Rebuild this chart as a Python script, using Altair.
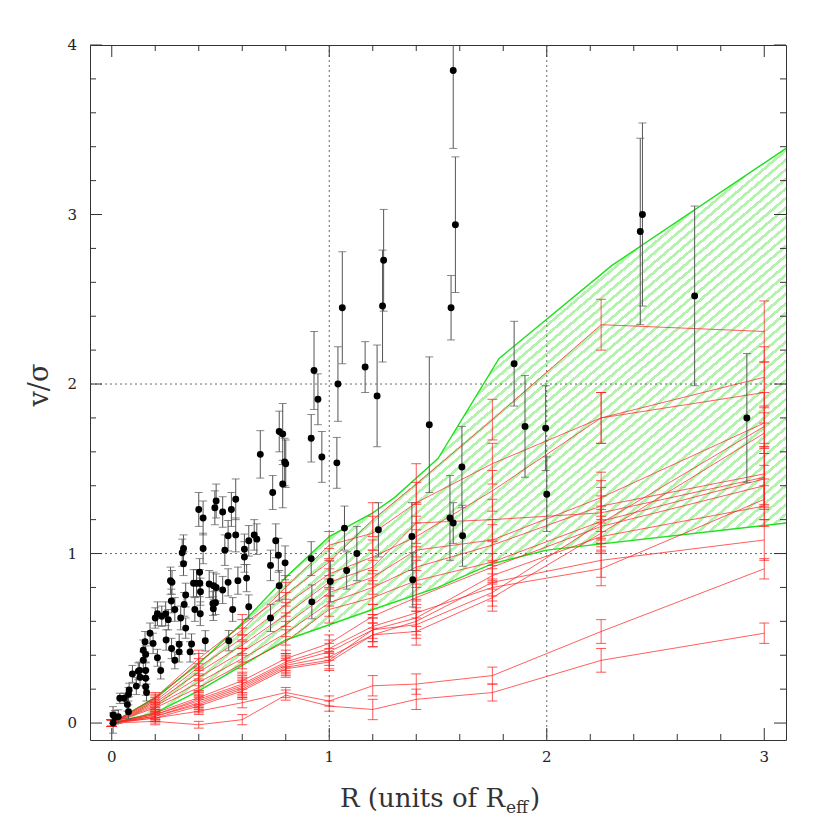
import altair as alt
import pandas as pd

# ---------------- data ----------------
RX = [0, 0.2, 0.4, 0.6, 0.8, 1.0, 1.2, 1.4, 1.75, 2.25, 3.0]

R01 = [0, 0.15, 0.38, 0.58, 0.76, 0.95, 1.20, 1.41, 1.79, 2.35, 2.31]
R02 = [0, 0.14, 0.36, 0.55, 0.80, 1.05, 1.12, 1.30, 1.53, 1.80, 2.04]
R03 = [0, 0.13, 0.33, 0.50, 0.70, 0.88, 0.98, 1.10, 1.37, 1.80, 1.95]
R04 = [0, 0.12, 0.30, 0.46, 0.64, 0.83, 0.92, 1.18, 1.20, 1.24, 1.45]
R05 = [0, 0.11, 0.27, 0.42, 0.58, 0.77, 0.86, 1.02, 1.08, 1.33, 1.77]
R06 = [0, 0.10, 0.24, 0.38, 0.53, 0.71, 0.80, 0.92, 1.05, 1.28, 1.47]
R07 = [0, 0.09, 0.21, 0.35, 0.48, 0.67, 0.74, 0.84, 0.95, 1.19, 1.44]
R08 = [0, 0.06, 0.15, 0.25, 0.38, 0.47, 0.63, 0.74, 0.92, 1.16, 1.40]
R09 = [0, 0.05, 0.14, 0.23, 0.36, 0.44, 0.57, 0.65, 0.80, 0.91, 1.32]
R10 = [0, 0.05, 0.13, 0.22, 0.35, 0.42, 0.55, 0.62, 0.87, 1.10, 1.28]
R11 = [0, 0.04, 0.12, 0.21, 0.34, 0.39, 0.52, 0.60, 0.83, 0.96, 1.08]
R12 = [0, 0.04, 0.11, 0.20, 0.33, 0.37, 0.55, 0.58, 0.77, 1.18, 1.75]
R13 = [0, 0.03, 0.10, 0.19, 0.32, 0.36, 0.52, 0.54, 0.74, 1.12, 1.71]
R14 = [0, 0.03, 0.07, 0.12, 0.18, 0.13, 0.22, 0.23, 0.28, 0.54, 0.91]
R15 = [0, 0.01, -0.01, 0.02, 0.165, 0.10, 0.08, 0.14, 0.18, 0.37, 0.53]
RED_LINES = [R01, R02, R03, R04, R05, R06, R07, R08, R09, R10, R11, R12, R13, R14, R15]

ERR_UPPER = [0.02, 0.03, 0.05, 0.06, 0.07, 0.08, 0.10, 0.12, 0.12, 0.15, 0.18]
ERR_MID = [0.02, 0.03, 0.04, 0.05, 0.05, 0.05, 0.07, 0.08, 0.08, 0.10, 0.12]
ERR_LOW = [0.02, 0.02, 0.02, 0.03, 0.03, 0.03, 0.06, 0.06, 0.05, 0.07, 0.06]
RED_ERR = [ERR_UPPER] * 7 + [ERR_MID] * 6 + [ERR_LOW] * 2

GU_X = [0, 0.2, 0.4, 0.6, 0.8, 1.0, 1.2, 1.3, 1.5, 1.78, 2.3, 3.1]
GU_Y = [0, 0.15, 0.35, 0.59, 0.86, 1.10, 1.24, 1.33, 1.56, 2.15, 2.70, 3.39]
GL_X = [0, 0.2, 0.4, 0.6, 0.8, 1.0, 1.2, 1.5, 1.75, 2.0, 3.1]
GL_Y = [0, 0.06, 0.19, 0.34, 0.49, 0.58, 0.67, 0.80, 0.94, 1.02, 1.18]

BX = [0.006, 0.006, 0.015, 0.03, 0.037, 0.057, 0.072, 0.077, 0.077, 0.08,
      0.095, 0.113, 0.122, 0.128, 0.13, 0.145, 0.145, 0.156, 0.156, 0.156,
      0.156, 0.16, 0.153, 0.176, 0.19, 0.20, 0.21, 0.21, 0.225, 0.23,
      0.248, 0.25, 0.26, 0.27, 0.277, 0.274, 0.275, 0.29, 0.29, 0.31,
      0.31, 0.317, 0.324, 0.33, 0.33, 0.333, 0.34, 0.34, 0.36, 0.367,
      0.376, 0.382, 0.39, 0.40, 0.404, 0.405, 0.407, 0.408, 0.42, 0.42,
      0.43, 0.448, 0.465, 0.467, 0.468, 0.474, 0.477, 0.48, 0.48, 0.51,
      0.51, 0.52, 0.535, 0.535, 0.538, 0.55, 0.556, 0.57, 0.57, 0.58,
      0.61, 0.61, 0.62, 0.63, 0.63, 0.655, 0.667, 0.683, 0.73, 0.73,
      0.74, 0.754, 0.766, 0.77, 0.786, 0.786, 0.795, 0.80, 0.77, 0.797,
      0.917, 0.92, 0.917, 0.93, 0.948, 0.966, 1.005, 1.035, 1.04, 1.06,
      1.07, 1.08, 1.127, 1.165, 1.22, 1.226, 1.245, 1.25, 1.38, 1.384,
      1.46, 1.555, 1.56, 1.57, 1.57, 1.58, 1.61, 1.613, 1.85, 1.90,
      1.995, 2.0, 2.43, 2.44, 2.68, 2.92]
BY = [0.00, 0.047, 0.034, 0.038, 0.146, 0.146, 0.11, 0.067, 0.17, 0.195,
      0.29, 0.218, 0.305, 0.31, 0.27, 0.43, 0.37, 0.405, 0.31, 0.264,
      0.214, 0.18, 0.48, 0.53, 0.47, 0.62, 0.645, 0.385, 0.31, 0.63,
      0.645, 0.49, 0.61, 0.84, 0.83, 0.72, 0.44, 0.67, 0.37, 0.465,
      0.42, 0.62, 1.005, 1.03, 0.94, 0.70, 0.755, 0.56, 0.42, 0.466,
      0.825, 0.67, 0.825, 1.26, 0.89, 0.825, 0.645, 0.775, 1.21, 1.03,
      0.485, 0.82, 0.705, 0.675, 0.81, 1.27, 0.71, 1.31, 0.80, 1.245,
      0.785, 1.02, 1.105, 0.83, 0.486, 1.26, 0.67, 1.32, 1.11, 0.84,
      1.025, 0.98, 0.855, 1.075, 0.686, 1.11, 1.085, 1.585, 0.93, 0.62,
      1.36, 1.075, 0.99, 1.72, 1.705, 1.41, 1.54, 1.53, 0.81, 0.945,
      1.68, 0.715, 0.97, 2.08, 1.91, 1.57, 0.835, 1.535, 2.00, 2.45,
      1.15, 0.90, 1.00, 2.10, 1.93, 1.14, 2.46, 2.73, 1.10, 0.845,
      1.76, 1.21, 2.45, 1.18, 3.85, 2.94, 1.51, 1.105, 2.12, 1.75,
      1.74, 1.35, 2.90, 3.00, 2.52, 1.80]
BE = [0.06, 0.05, 0.04, 0.04, 0.03, 0.03, 0.04, 0.04, 0.04, 0.04,
      0.05, 0.05, 0.05, 0.05, 0.05, 0.06, 0.05, 0.05, 0.05, 0.05,
      0.05, 0.05, 0.06, 0.06, 0.06, 0.06, 0.07, 0.05, 0.05, 0.06,
      0.07, 0.06, 0.06, 0.08, 0.07, 0.07, 0.06, 0.07, 0.05, 0.06,
      0.06, 0.07, 0.08, 0.08, 0.07, 0.07, 0.07, 0.06, 0.06, 0.06,
      0.08, 0.07, 0.08, 0.10, 0.08, 0.08, 0.07, 0.08, 0.10, 0.09,
      0.06, 0.08, 0.07, 0.07, 0.08, 0.10, 0.07, 0.10, 0.08, 0.09,
      0.08, 0.09, 0.09, 0.08, 0.06, 0.10, 0.07, 0.12, 0.10, 0.08,
      0.09, 0.09, 0.08, 0.09, 0.07, 0.09, 0.09, 0.14, 0.09, 0.08,
      0.10, 0.10, 0.10, 0.12, 0.18, 0.14, 0.14, 0.14, 0.09, 0.10,
      0.14, 0.10, 0.10, 0.23, 0.15, 0.15, 0.12, 0.15, 0.22, 0.33,
      0.13, 0.11, 0.16, 0.15, 0.30, 0.16, 0.33, 0.30, 0.20, 0.16,
      0.40, 0.25, 0.19, 0.12, 0.46, 0.40, 0.24, 0.18, 0.25, 0.30,
      0.25, 0.22, 0.55, 0.54, 0.53, 0.38]

X_MAJOR = [0, 1, 2, 3]
X_LABELS = ["0", "1", "2", "3"]
X_MINOR = [0.2, 0.4, 0.6, 0.8, 1.2, 1.4, 1.6, 1.8, 2.2, 2.4, 2.6, 2.8]
Y_MAJOR = [0, 1, 2, 3, 4]
Y_LABELS = ["0", "1", "2", "3", "4"]
Y_MINOR = [0.2, 0.4, 0.6, 0.8, 1.2, 1.4, 1.6, 1.8, 2.2, 2.4, 2.6, 2.8,
           3.2, 3.4, 3.6, 3.8]
GRID_X = [1, 2]
GRID_Y = [1, 2]

X_TITLE = ["R (units of R", "eff", ")"]
Y_TITLE = "v/\u03c3"

# ---------------- build ----------------
W, H = 696, 695
SERIF = "DejaVu Serif"
xs = alt.Scale(domain=[-0.1, 3.1], nice=False, zero=False)
ys = alt.Scale(domain=[-0.1, 4.0], nice=False, zero=False)

rows = []
for i, (line, errs) in enumerate(zip(RED_LINES, RED_ERR)):
    for x, y, e in zip(RX, line, errs):
        rows.append({"id": i, "x": x, "y": y, "lo": y - e, "hi": y + e})
red_df = pd.DataFrame(rows)

black_df = pd.DataFrame({"x": BX, "y": BY,
                         "lo": [y - e for y, e in zip(BY, BE)],
                         "hi": [y + e for y, e in zip(BY, BE)]})
gu_df = pd.DataFrame({"x": GU_X, "y": GU_Y})
gl_df = pd.DataFrame({"x": GL_X, "y": GL_Y})


def X(f="x"):
    return alt.X(f"{f}:Q", scale=xs, axis=None)


def Y(f="y"):
    return alt.Y(f"{f}:Q", scale=ys, axis=None)


# hatch-like fill: fine diagonal stripes made from a linear gradient (style only)
N_STRIPES = 120
HATCH, BG = "#b4f3ae", "#ffffff"
stops = []
for k in range(N_STRIPES):
    a = k / N_STRIPES
    b = (k + 0.38) / N_STRIPES
    c = (k + 1) / N_STRIPES
    stops += [alt.GradientStop(offset=a, color=HATCH),
              alt.GradientStop(offset=b, color=HATCH),
              alt.GradientStop(offset=b, color=BG),
              alt.GradientStop(offset=c, color=BG)]
hatch = alt.LinearGradient(gradient="linear", stops=stops, x1=0, y1=0, x2=1, y2=1)

band = alt.Chart(gu_df).mark_area(color=hatch, opacity=1).encode(
    x=X(), y=Y(), y2=alt.value(H))
white = alt.Chart(gl_df).mark_area(color="white", opacity=1).encode(
    x=X(), y=Y(), y2=alt.value(H))

gx = alt.Chart(pd.DataFrame({"v": GRID_X})).mark_rule(
    color="#444", strokeDash=[2, 3], strokeWidth=0.8).encode(
    x=X("v"), y=alt.value(0), y2=alt.value(H))
gy = alt.Chart(pd.DataFrame({"v": GRID_Y})).mark_rule(
    color="#444", strokeDash=[2, 3], strokeWidth=0.8).encode(
    y=Y("v"), x=alt.value(0), x2=alt.value(W))


def xticks(vals, L):
    d = pd.DataFrame({"v": vals})
    b = alt.Chart(d).mark_rule(color="#333", strokeWidth=1).encode(
        x=X("v"), y=alt.value(H), y2=alt.value(H - L))
    t = alt.Chart(d).mark_rule(color="#333", strokeWidth=1).encode(
        x=X("v"), y=alt.value(0), y2=alt.value(L))
    return [b, t]


def yticks(vals, L):
    d = pd.DataFrame({"v": vals})
    l = alt.Chart(d).mark_rule(color="#333", strokeWidth=1).encode(
        y=Y("v"), x=alt.value(0), x2=alt.value(L))
    r = alt.Chart(d).mark_rule(color="#333", strokeWidth=1).encode(
        y=Y("v"), x=alt.value(W), x2=alt.value(W - L))
    return [l, r]


ticks = xticks(X_MAJOR, 12) + xticks(X_MINOR, 6) + yticks(Y_MAJOR, 12) + yticks(Y_MINOR, 6)

xlab = alt.Chart(pd.DataFrame({"v": X_MAJOR, "t": X_LABELS})).mark_text(
    font=SERIF, fontSize=15, color="#222", align="center", baseline="middle").encode(
    x=X("v"), y=alt.value(H + 17), text="t:N")
ylab = alt.Chart(pd.DataFrame({"v": Y_MAJOR, "t": Y_LABELS})).mark_text(
    font=SERIF, fontSize=15, color="#222", align="right", baseline="middle").encode(
    y=Y("v"), x=alt.value(-13), text="t:N")

gline_u = alt.Chart(gu_df).mark_line(color="#1ee01e", strokeWidth=1.4).encode(x=X(), y=Y())
gline_l = alt.Chart(gl_df).mark_line(color="#1ee01e", strokeWidth=1.4).encode(x=X(), y=Y())

red_lines = alt.Chart(red_df).mark_line(color="#ff2020", strokeWidth=0.8, opacity=0.9).encode(
    x=X(), y=Y(), detail="id:N")
red_err = alt.Chart(red_df).mark_errorbar(
    color="#ff2020", ticks={"size": 10}, opacity=0.75, thickness=1).encode(
    x=X(), y=Y("lo"), y2="hi:Q")

black_err = alt.Chart(black_df).mark_errorbar(
    color="#555", ticks={"size": 8}, thickness=1, clip=True).encode(
    x=X(), y=Y("lo"), y2="hi:Q")
black_pts = alt.Chart(black_df).mark_circle(color="black", size=48, opacity=1).encode(
    x=X(), y=Y())

tdf = pd.DataFrame({"t": [0]})
xt1 = alt.Chart(tdf).mark_text(text=X_TITLE[0], font=SERIF, fontSize=26, align="right",
                               baseline="alphabetic", color="#333").encode(
    x=alt.value(415), y=alt.value(762))
xt2 = alt.Chart(tdf).mark_text(text=X_TITLE[1], font=SERIF, fontSize=17, align="left",
                               baseline="alphabetic", color="#333").encode(
    x=alt.value(416), y=alt.value(768))
xt3 = alt.Chart(tdf).mark_text(text=X_TITLE[2], font=SERIF, fontSize=26, align="left",
                               baseline="alphabetic", color="#333").encode(
    x=alt.value(440), y=alt.value(762))
yt = alt.Chart(tdf).mark_text(text=Y_TITLE, font=SERIF, fontSize=27, align="center",
                              baseline="middle", angle=270, color="#333").encode(
    x=alt.value(-50), y=alt.value(340))

chart = alt.layer(
    band, white, gx, gy, *ticks, gline_u, gline_l,
    red_lines, red_err, black_err, black_pts, xlab, ylab, xt1, xt2, xt3, yt
).properties(
    width=W, height=H,
    autosize=alt.AutoSizeParams(type="none"),
    padding={"left": 82, "top": 37, "right": 36, "bottom": 82},
).configure_view(stroke="#333", strokeWidth=1)

chart.save("out.html", embed_options={"renderer": "svg", "actions": False})
